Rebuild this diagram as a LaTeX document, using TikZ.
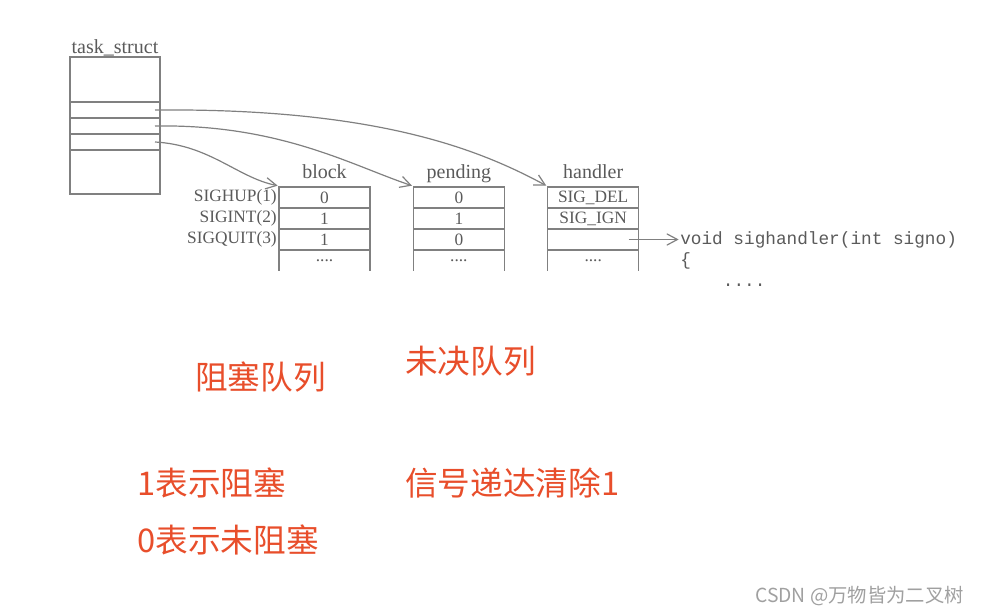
\documentclass[tikz,border=0pt]{standalone}
\usepackage{fontspec}
\setmainfont{Liberation Serif}
\setmonofont{Liberation Mono}
\newfontfamily\cjk{Noto Sans CJK SC}
\usepackage{xcolor}
\usetikzlibrary{arrows.meta, positioning, calc}
\definecolor{linegray}{HTML}{808080}
\definecolor{textgray}{HTML}{5A5A5A}
\definecolor{notered}{HTML}{E84E2B}
\definecolor{markgray}{HTML}{A0A0A0}

\begin{document}
\begin{tikzpicture}[
    x=0.75pt, y=-0.75pt,
    cell/.style={rectangle, draw=linegray, line width=1pt, minimum width=68.25pt, minimum height=15.75pt, inner sep=0pt, outer sep=0pt, text=textgray, font=\fontsize{13}{15}\selectfont},
    opencell/.style={cell, draw=none},
    tsbox/.style={rectangle, draw=linegray, line width=1pt, minimum width=67.5pt, inner sep=0pt, outer sep=0pt},
    head/.style={text=textgray, font=\fontsize{15}{17}\selectfont, inner sep=1pt, text height=1.5ex, text depth=.25ex},
    siglabel/.style={text=textgray, font=\fontsize{13}{15}\selectfont, inner sep=0pt},
    code/.style={text=textgray, font=\ttfamily\fontsize{13.3}{15}\selectfont, inner sep=1pt},
    note/.style={text=notered, font=\cjk\fontsize{24.5}{28}\selectfont, inner sep=0pt, anchor=west},
    ptr/.style={-{Straight Barb[length=2.8mm, width=3mm]}, linegray, line width=0.9pt}
]
\useasboundingbox (0,0) rectangle (981,614);

% task_struct
\node[tsbox, minimum height=33.75pt] (ts0) at (115,79.5) {};
\node[tsbox, minimum height=12pt, below=0pt of ts0] (ts1) {};
\node[tsbox, minimum height=12pt, below=0pt of ts1] (ts2) {};
\node[tsbox, minimum height=12pt, below=0pt of ts2] (ts3) {};
\node[tsbox, minimum height=33pt, below=0pt of ts3] (ts4) {};
\node[head, above=0pt of ts0] (tsh) {task\_struct};

% block
\node[cell] (bk1) at (324.5,197.5) {0};
\node[cell, below=0pt of bk1] (bk2) {1};
\node[cell, below=0pt of bk2] (bk3) {1};
\node[opencell, below=0pt of bk3] (bk4) {....};
\node[head, above=4pt of bk1] (bkh) {block};

% pending
\node[cell, right=32.5pt of bk1] (pd1) {0};
\node[cell, below=0pt of pd1] (pd2) {1};
\node[cell, below=0pt of pd2] (pd3) {0};
\node[opencell, below=0pt of pd3] (pd4) {....};
\node[head, above=4pt of pd1] (pdh) {pending};

% handler
\node[cell, right=32.5pt of pd1] (hd1) {SIG\_DEL};
\node[cell, below=0pt of hd1] (hd2) {SIG\_IGN};
\node[cell, below=0pt of hd2] (hd3) {};
\node[opencell, below=0pt of hd3] (hd4) {....};
\node[head, above=4pt of hd1] (hdh) {handler};

\foreach \t in {bk,pd,hd} {
    \draw[linegray, line width=1pt] (\t4.north west) -- (\t4.south west);
    \draw[linegray, line width=1pt] (\t4.north east) -- (\t4.south east);
}

% 信号编号
\node[siglabel, left=1.5pt of bk1] (sig1) {SIGHUP(1)};
\node[siglabel, left=1.5pt of bk2] (sig2) {SIGINT(2)};
\node[siglabel, left=1.5pt of bk3] (sig3) {SIGQUIT(3)};

% 处理函数
\node[code, right=30pt of hd3] (fn) {void sighandler(int signo)};
\node[code, anchor=base west] (brace) at ($(fn.base west)+(0,21)$) {\{};
\node[code, anchor=base west] (body) at ($(fn.base west)+(42.6,42)$) {....};

% 箭头
\coordinate (p1) at ([xshift=-3.75pt]ts1.east);
\coordinate (p2) at ([xshift=-3.75pt]ts2.east);
\coordinate (p3) at ([xshift=-3.75pt]ts3.east);
\draw[ptr] (p1) .. controls +(225,-2) and +(-65,-35) .. ([xshift=-1pt,yshift=1pt]hd1.north west);
\draw[ptr] (p2) .. controls +(125,-2) and +(-60,-20) .. ([xshift=-1pt,yshift=1pt]pd1.north west);
\draw[ptr] (p3) .. controls +(55,3) and +(-40,-8) .. ([xshift=-1pt,yshift=1pt]bk1.north west);
\draw[ptr] ([xshift=-7.5pt]hd3.east) -- (fn.west);

% 说明文字
\node[note] (blkq) at (195,377) {阻塞队列};
\node[note] (pndq) at (405,361) {未决队列};
\node[note] (one) at (137,483) {1表示阻塞};
\node[note] (zero) at (137,540) {0表示未阻塞};
\node[note] (clr) at (405,483) {信号递达清除1};

\node[text=markgray, font=\cjk\fontsize{14.5}{16}\selectfont, inner sep=0pt, anchor=west] (mark) at (755,596) {CSDN @万物皆为二叉树};

\end{tikzpicture}
\end{document}
